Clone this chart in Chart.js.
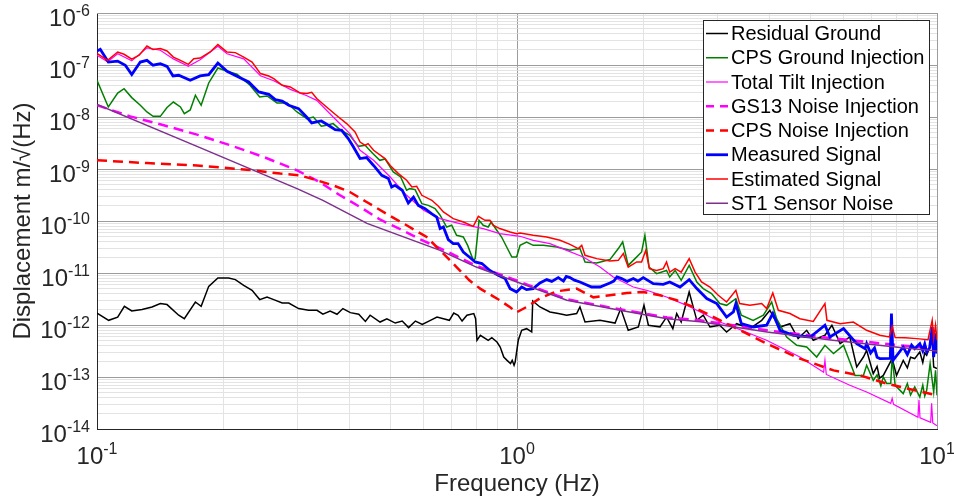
<!DOCTYPE html>
<html>
<head>
<meta charset="utf-8">
<script src="https://cdn.jsdelivr.net/npm/chart.js@4.4.1/dist/chart.umd.min.js"></script>
<style>
html,body{margin:0;padding:0;background:#fff;}
#wrap{width:954px;height:502px;}
</style>
</head>
<body>
<div id="wrap"><canvas id="psd" width="954" height="502"></canvas></div>
<script>
// [frequency Hz, displacement m/sqrt(Hz)]
const residualGround = [[0.1,1.70e-12],[0.1066,1.23e-12],[0.112,1.42e-12],[0.1162,2.29e-12],[0.121,1.86e-12],[0.128,1.98e-12],[0.1352,2.22e-12],[0.1415,2.58e-12],[0.1468,2.47e-12],[0.1565,1.54e-12],[0.1614,1.32e-12],[0.1715,2.77e-12],[0.177,2.29e-12],[0.1845,5.54e-12],[0.194,8.02e-12],[0.2058,8.02e-12],[0.2135,7.47e-12],[0.2235,5.8e-12],[0.234,4.65e-12],[0.244,3.08e-12],[0.254,3.45e-12],[0.2635,3.08e-12],[0.276,2.65e-12],[0.2861,2.65e-12],[0.302,2.07e-12],[0.319,1.92e-12],[0.3341,1.92e-12],[0.345,1.61e-12],[0.359,1.86e-12],[0.3728,1.61e-12],[0.385,2.07e-12],[0.401,1.73e-12],[0.42,1.61e-12],[0.4355,1.17e-12],[0.447,1.54e-12],[0.472,1.14e-12],[0.49,1.32e-12],[0.513,1.09e-12],[0.533,1.19e-12],[0.552,8.9e-13],[0.573,1.19e-12],[0.595,1.03e-12],[0.622,1.23e-12],[0.645,1.42e-12],[0.668,1.32e-12],[0.69,1.23e-12],[0.707,1.70e-12],[0.724,1.54e-12],[0.74,1.19e-12],[0.76,1.54e-12],[0.789,1.66e-12],[0.797,1.32e-12],[0.803,5.08e-13],[0.818,6.34e-13],[0.854,5.08e-13],[0.871,5.72e-13],[0.896,4.71e-13],[0.912,3.78e-13],[0.93,2.42e-13],[0.947,2.09e-13],[0.965,1.81e-13],[0.974,2.09e-13],[0.984,1.68e-13],[0.99,1.94e-13],[1.007,5.08e-13],[1.026,7.9e-13],[1.054,8.5e-13],[1.084,7.34e-13],[1.09,2.89e-12],[1.134,2.22e-12],[1.198,1.78e-12],[1.254,1.66e-12],[1.313,1.54e-12],[1.387,1.66e-12],[1.412,2.22e-12],[1.452,1.14e-12],[1.576,1.23e-12],[1.712,1.09e-12],[1.766,2.07e-12],[1.84,7.9e-13],[1.945,9.15e-13],[2.006,2.39e-12],[2.055,9.9e-13],[2.19,9.15e-13],[2.27,1.42e-12],[2.35,8.5e-13],[2.40,1.66e-12],[2.46,1.14e-12],[2.57,4.31e-12],[2.68,1.23e-12],[2.776,1.54e-12],[2.88,9.15e-13],[3.04,9.9e-13],[3.155,7.34e-13],[3.335,1.06e-12],[3.585,8.5e-13],[3.825,1.23e-12],[4.0,1.92e-12],[4.08,1.42e-12],[4.23,9.15e-13],[4.465,1.06e-12],[4.67,5.47e-13],[4.895,7.9e-13],[5.075,5.08e-13],[5.41,6.34e-13],[5.62,9.9e-13],[5.88,4.39e-13],[6.2,5.88e-13],[6.44,1.56e-13],[6.68,2.42e-13],[6.8,3.26e-13],[7.05,1.16e-13],[7.2,1.6e-13],[7.3,9.5e-14],[7.45,1.07e-13],[7.82,2.26e-13],[8.01,1.07e-13],[8.31,2.09e-13],[8.5,1.5e-13],[8.65,2.4e-13],[8.85,2.26e-13],[9.1,3.03e-13],[9.25,1.9e-13],[9.35,2.9e-13],[9.45,2.61e-13],[9.74,5.08e-13],[9.82,1.56e-13],[10,1.45e-13]];

const cpsGroundInjection = [[0.1,5.08e-8],[0.1064,1.56e-8],[0.112,2.89e-8],[0.116,3.51e-8],[0.121,2.36e-8],[0.1268,1.68e-8],[0.1315,1.25e-8],[0.136,1.03e-8],[0.1415,1.03e-8],[0.1468,1.52e-8],[0.152,1.94e-8],[0.158,1.56e-8],[0.1614,1.16e-8],[0.1667,1.37e-8],[0.1715,2.62e-8],[0.177,1.68e-8],[0.1845,4.51e-8],[0.194,8.76e-8],[0.204,7.57e-8],[0.2154,6.63e-8],[0.2314,4.07e-8],[0.244,2.42e-8],[0.254,2.54e-8],[0.2683,1.86e-8],[0.2835,1.86e-8],[0.2994,1.25e-8],[0.316,9.3e-9],[0.3275,1.0e-8],[0.342,6.63e-9],[0.352,6.92e-9],[0.365,7.47e-9],[0.379,5.72e-9],[0.400,4.44e-9],[0.419,2.73e-9],[0.435,2.86e-9],[0.442,2.47e-9],[0.4555,1.92e-9],[0.4715,1.47e-9],[0.485,1.56e-9],[0.5075,8.76e-10],[0.5285,7.02e-10],[0.546,3.90e-10],[0.556,4.19e-10],[0.572,4.01e-10],[0.5935,2.16e-10],[0.615,2.0e-10],[0.638,1.73e-10],[0.656,1.29e-10],[0.680,7.67e-11],[0.699,8.27e-11],[0.718,5.31e-11],[0.745,4.92e-11],[0.763,3.40e-11],[0.787,1.75e-11],[0.795,1.89e-11],[0.812,1.03e-10],[0.831,8.27e-11],[0.854,7.67e-11],[0.868,9.57e-11],[0.895,6.63e-11],[0.919,4.92e-11],[0.945,3.16e-11],[0.972,2.03e-11],[0.998,2.03e-11],[1.017,3.40e-11],[1.054,3.95e-11],[1.093,3.40e-11],[1.155,3.40e-11],[1.243,3.16e-11],[1.337,2.73e-11],[1.412,2.95e-11],[1.452,1.63e-11],[1.548,1.56e-11],[1.664,1.81e-11],[1.743,2.95e-11],[1.785,3.95e-11],[1.84,1.40e-11],[1.910,1.89e-11],[1.98,2.54e-11],[2.016,5.31e-11],[2.063,1.30e-11],[2.15,9.7e-12],[2.27,1.12e-11],[2.31,8.38e-12],[2.38,1.12e-11],[2.46,7.24e-12],[2.57,1.40e-11],[2.68,6.72e-12],[2.776,5.01e-12],[2.905,4.01e-12],[3.04,2.58e-12],[3.155,2.39e-12],[3.32,3.22e-12],[3.42,1.54e-12],[3.65,1.23e-12],[3.86,1.54e-12],[4.04,2.77e-12],[4.15,1.32e-12],[4.385,5.88e-13],[4.635,4.07e-13],[4.895,3.78e-13],[5.17,2.42e-13],[5.41,4.07e-13],[5.67,2.82e-13],[5.99,4.07e-13],[6.38,1.07e-13],[6.68,1.07e-13],[6.80,1.68e-13],[7.05,8.6e-14],[7.2,1.1e-13],[7.35,6.8e-14],[7.45,1.0e-13],[7.59,7.47e-14],[7.76,7.5e-14],[7.82,2.42e-13],[7.95,6.92e-14],[8.31,4.79e-14],[8.5,7.5e-14],[8.65,4.5e-14],[8.85,6.42e-14],[9.10,4.12e-14],[9.25,7.0e-14],[9.35,4.3e-14],[9.45,5.54e-14],[9.63,1.81e-13],[9.82,5.15e-14],[9.92,1.34e-13],[10,4.44e-14]];

const totalTiltInjection = [[0.1,1.54e-7],[0.106,1.15e-7],[0.112,1.64e-7],[0.121,1.2e-7],[0.1315,2.14e-7],[0.1415,1.92e-7],[0.152,1.31e-7],[0.165,9.4e-8],[0.176,1.26e-7],[0.194,2.29e-7],[0.204,1.64e-7],[0.2235,1.31e-7],[0.245,6.2e-8],[0.2635,4.97e-8],[0.2885,3.4e-8],[0.316,2.56e-8],[0.3335,2.09e-8],[0.365,1.0e-8],[0.400,4.79e-9],[0.423,2.29e-9],[0.4555,1.47e-9],[0.499,7.02e-10],[0.546,3.12e-10],[0.599,1.61e-10],[0.656,1.11e-10],[0.731,8.9e-11],[0.831,7.15e-11],[0.910,5.72e-11],[1.017,5.08e-11],[1.093,4.25e-11],[1.198,3.68e-11],[1.313,2.73e-11],[1.438,2.03e-11],[1.576,1.30e-11],[1.695,8.38e-12],[1.892,5.38e-12],[2.037,4.65e-12],[2.27,3.45e-12],[2.535,2.39e-12],[2.83,1.54e-12],[3.04,1.14e-12],[3.275,9.15e-13],[3.93,5.08e-13],[4.715,2.42e-13],[5.37,1.23e-13],[5.41,2.09e-13],[5.45,1.12e-13],[6.20,6.92e-14],[6.80,5.15e-14],[7.76,3.12e-14],[7.82,3.88e-14],[7.88,2.99e-14],[9.01,1.68e-14],[9.06,3.64e-14],[9.11,1.64e-14],[9.66,1.34e-14],[9.71,3.12e-14],[9.77,1.31e-14],[10,1.15e-14]];

const gs13NoiseInjection = [[0.1,1.68e-8],[0.120,1.03e-8],[0.1442,6.92e-9],[0.173,4.59e-9],[0.2077,2.86e-9],[0.2495,1.70e-9],[0.2994,9.43e-10],[0.339,5.62e-10],[0.379,3.12e-10],[0.423,1.86e-10],[0.4715,1.07e-10],[0.5285,6.92e-11],[0.588,4.44e-11],[0.656,2.99e-11],[0.8,1.38e-11],[1.0,7.1e-12],[1.315,3.12e-12],[1.759,2.0e-12],[2.276,1.40e-12],[2.73,1.23e-12],[3.94,7.9e-13],[5.65,5.54e-13],[8.17,4.07e-13],[10,3.56e-13]];

const cpsNoiseInjection = [[0.1,1.47e-9],[0.1315,1.30e-9],[0.173,1.17e-9],[0.2276,9.7e-10],[0.273,8.16e-10],[0.304,7.57e-10],[0.3335,6.07e-10],[0.365,4.85e-10],[0.400,3.61e-10],[0.4385,2.32e-10],[0.4895,1.37e-10],[0.546,8.27e-11],[0.6095,4.92e-11],[0.668,2.36e-11],[0.718,1.30e-11],[0.770,7.24e-12],[0.817,5.01e-12],[0.910,2.99e-12],[0.963,2.19e-12],[0.998,1.75e-12],[1.054,2.22e-12],[1.134,3.26e-12],[1.243,4.44e-12],[1.387,5.01e-12],[1.52,3.40e-12],[1.664,3.73e-12],[1.825,4.12e-12],[1.998,4.31e-12],[2.19,3.73e-12],[2.40,2.99e-12],[2.63,2.22e-12],[2.88,1.54e-12],[3.275,9.15e-13],[3.93,4.39e-13],[4.715,2.26e-13],[5.67,1.34e-13],[6.56,1.07e-13],[7.59,7.47e-14],[8.85,5.54e-14],[10,4.44e-14]];

const measuredSignal = [[0.1,1.86e-7],[0.1018,2.0e-7],[0.1064,1.14e-7],[0.112,1.19e-7],[0.1168,9.9e-8],[0.121,6.54e-8],[0.1268,1.14e-7],[0.1315,1.23e-7],[0.136,9.9e-8],[0.1415,1.06e-7],[0.1468,9.43e-8],[0.1517,6.15e-8],[0.1565,6.34e-8],[0.1667,5.08e-8],[0.176,6.15e-8],[0.1845,6.54e-8],[0.194,1.09e-7],[0.204,7.57e-8],[0.2154,6.07e-8],[0.2297,4.71e-8],[0.2427,3.03e-8],[0.2565,2.73e-8],[0.2658,2.16e-8],[0.276,2.03e-8],[0.2861,1.68e-8],[0.302,1.45e-8],[0.3155,1.0e-8],[0.3245,7.67e-9],[0.342,8.38e-9],[0.3555,6.92e-9],[0.369,5.72e-9],[0.3825,5.54e-9],[0.3965,3.85e-9],[0.408,2.65e-9],[0.423,1.59e-9],[0.4385,1.66e-9],[0.4555,1.17e-9],[0.4765,7.57e-10],[0.494,6.54e-10],[0.503,4.51e-10],[0.5125,4.85e-10],[0.533,3.90e-10],[0.551,2.22e-10],[0.567,2.89e-10],[0.582,2.0e-10],[0.604,1.73e-10],[0.627,1.37e-10],[0.644,1.19e-10],[0.656,7.15e-11],[0.668,7.67e-11],[0.686,4.39e-11],[0.705,3.68e-11],[0.724,3.68e-11],[0.745,2.54e-11],[0.770,2.03e-11],[0.795,1.63e-11],[0.825,1.52e-11],[0.862,1.12e-11],[0.902,9.0e-12],[0.937,7.81e-12],[0.963,5.01e-12],[0.998,4.31e-12],[1.026,5.38e-12],[1.054,4.79e-12],[1.093,5.01e-12],[1.134,6.42e-12],[1.177,7.47e-12],[1.21,6.9e-12],[1.254,8.16e-12],[1.29,7.0e-12],[1.31,8.6e-12],[1.337,8.16e-12],[1.37,7.3e-12],[1.412,6.72e-12],[1.505,5.38e-12],[1.576,5.38e-12],[1.664,6.42e-12],[1.70,7.0e-12],[1.73,8.4e-12],[1.775,7.81e-12],[1.83,6.9e-12],[1.892,7.81e-12],[1.94,7.0e-12],[1.998,8.16e-12],[2.111,6.25e-12],[2.23,6.07e-12],[2.31,6.72e-12],[2.444,5.38e-12],[2.57,7.47e-12],[2.68,5.01e-12],[2.83,3.22e-12],[2.99,2.58e-12],[3.155,1.42e-12],[3.275,1.78e-12],[3.32,2.58e-12],[3.42,1.06e-12],[3.65,9.15e-13],[3.93,9.9e-13],[4.065,1.66e-12],[4.23,7.9e-13],[4.555,6.34e-13],[4.99,5.88e-13],[5.41,9.9e-13],[5.56,5.88e-13],[5.99,8.5e-13],[6.44,4.39e-13],[6.74,3.51e-13],[6.80,4.39e-13],[6.95,2.9e-13],[7.1,3.6e-13],[7.2,2.4e-13],[7.31,2.26e-13],[7.74,2.28e-13],[7.79,1.66e-12],[7.86,2.09e-13],[8.31,3.78e-13],[8.5,2.7e-13],[8.7,4.1e-13],[8.85,3.51e-13],[9.10,4.39e-13],[9.25,3.2e-13],[9.35,4.3e-13],[9.45,3.03e-13],[9.6,3.6e-13],[9.74,9.15e-13],[9.82,2.42e-13],[9.92,6.92e-13],[10,2.82e-13]];

const estimatedSignal = [[0.1,1.67e-7],[0.106,1.23e-7],[0.112,1.78e-7],[0.116,1.61e-7],[0.121,1.30e-7],[0.126,1.54e-7],[0.1315,2.32e-7],[0.136,1.98e-7],[0.1415,2.07e-7],[0.1468,1.86e-7],[0.152,1.42e-7],[0.158,1.23e-7],[0.165,1.03e-7],[0.170,1.32e-7],[0.176,1.36e-7],[0.186,1.78e-7],[0.194,2.47e-7],[0.204,1.78e-7],[0.2135,1.73e-7],[0.2235,1.42e-7],[0.234,1.14e-7],[0.245,6.84e-8],[0.2565,6.15e-8],[0.2635,5.47e-8],[0.276,4.07e-8],[0.2885,3.78e-8],[0.305,2.89e-8],[0.316,2.82e-8],[0.3245,2.99e-8],[0.3335,2.26e-8],[0.352,1.56e-8],[0.372,1.07e-8],[0.393,7.47e-9],[0.4115,5.15e-9],[0.423,3.30e-9],[0.435,2.86e-9],[0.442,3.08e-9],[0.4555,2.29e-9],[0.485,1.59e-9],[0.499,1.17e-9],[0.522,8.16e-10],[0.546,6.07e-10],[0.562,4.51e-10],[0.577,4.65e-10],[0.5935,3.12e-10],[0.627,2.50e-10],[0.650,1.92e-10],[0.668,1.49e-10],[0.705,1.11e-10],[0.745,9.57e-11],[0.787,7.9e-11],[0.809,1.23e-10],[0.839,1.03e-10],[0.862,1.03e-10],[0.877,8.27e-11],[0.910,7.15e-11],[0.963,6.15e-11],[0.998,5.72e-11],[1.017,5.88e-11],[1.093,5.31e-11],[1.177,4.92e-11],[1.266,4.25e-11],[1.337,3.56e-11],[1.399,2.95e-11],[1.426,3.40e-11],[1.452,2.19e-11],[1.548,1.89e-11],[1.664,1.70e-11],[1.743,1.75e-11],[1.791,2.36e-11],[1.84,1.30e-11],[1.928,1.63e-11],[1.98,1.63e-11],[2.026,2.73e-11],[2.066,1.21e-11],[2.15,1.12e-11],[2.23,1.21e-11],[2.27,1.63e-11],[2.31,1.04e-11],[2.38,1.21e-11],[2.46,1.04e-11],[2.57,1.89e-11],[2.655,1.04e-11],[2.75,6.72e-12],[2.88,5.38e-12],[3.015,3.73e-12],[3.155,2.77e-12],[3.32,4.65e-12],[3.39,2.58e-12],[3.585,2.39e-12],[3.825,2.58e-12],[3.93,2.07e-12],[4.065,4.12e-12],[4.19,1.92e-12],[4.465,1.66e-12],[4.715,1.32e-12],[5.075,1.17e-12],[5.41,2.58e-12],[5.47,1.23e-12],[5.88,1.06e-12],[6.32,1.14e-12],[6.80,7.9e-13],[7.31,6.34e-13],[7.70,5.9e-13],[7.82,9.4e-13],[7.95,5.72e-13],[8.39,5.7e-13],[8.95,5.47e-13],[9.52,5.2e-13],[9.74,1.23e-12],[9.82,5.47e-13],[9.92,9.9e-13],[10,5.08e-13]];

const st1SensorNoise = [[0.1,1.75e-8],[0.173,2.73e-9],[0.2994,4.19e-10],[0.345,2.50e-10],[0.4394,9.0e-11],[0.656,2.73e-11],[0.8,1.30e-11],[1.0,6.72e-12],[1.315,2.99e-12],[1.759,1.92e-12],[2.276,1.32e-12],[2.73,1.15e-12],[3.94,7.34e-13],[5.65,5.08e-13],[8.17,3.68e-13],[10,3.16e-13]];

const xTickExponents = [-1, 0, 1];
const yTickExponents = [-14, -13, -12, -11, -10, -9, -8, -7, -6];

const FONT = '"Liberation Sans", Arial, Helvetica, sans-serif';
const INK = '#262626';

const series = [
  {label: 'Residual Ground',      data: residualGround,     color: '#000000', width: 1.5, dash: []},
  {label: 'CPS Ground Injection', data: cpsGroundInjection, color: '#008000', width: 1.5, dash: []},
  {label: 'Total Tilt Injection', data: totalTiltInjection, color: '#ff00ff', width: 1.2, dash: []},
  {label: 'GS13 Noise Injection', data: gs13NoiseInjection, color: '#ff00ff', width: 2.5, dash: [10, 6]},
  {label: 'CPS Noise Injection',  data: cpsNoiseInjection,  color: '#ff0000', width: 2.5, dash: [10, 6]},
  {label: 'Measured Signal',      data: measuredSignal,     color: '#0000ff', width: 2.8, dash: []},
  {label: 'Estimated Signal',     data: estimatedSignal,    color: '#ff0000', width: 1.5, dash: []},
  {label: 'ST1 Sensor Noise',     data: st1SensorNoise,     color: '#7e2f8e', width: 1.5, dash: []}
];

function logTicks(e0, e1){
  const t = [];
  for(let e = e0; e < e1; e++) for(let m = 1; m < 10; m++) t.push({value: m * Math.pow(10, e)});
  t.push({value: Math.pow(10, e1)});
  return t;
}
const isDecade = v => Math.abs(Math.log10(v) - Math.round(Math.log10(v))) < 1e-6;
const gridColor = c => (c.tick && isDecade(c.tick.value)) ? '#9c9c9c' : '#e3e3e3';

function drawPower(ctx, exp, x, y, align){
  ctx.font = '24px ' + FONT;
  const wb = ctx.measureText('10').width;
  ctx.font = '16px ' + FONT;
  const we = ctx.measureText(String(exp)).width;
  const left = align === 'right' ? x - wb - we : x - (wb + we) / 2;
  ctx.textAlign = 'left';
  ctx.textBaseline = 'alphabetic';
  ctx.fillStyle = INK;
  ctx.font = '24px ' + FONT;
  ctx.fillText('10', left, y);
  ctx.font = '16px ' + FONT;
  ctx.fillText(String(exp), left + wb, y - 10);
}

const decor = {
  id: 'decor',
  beforeDraw(chart){
    const c = chart.ctx;
    c.save(); c.fillStyle = '#fff'; c.fillRect(0, 0, chart.width, chart.height); c.restore();
  },
  afterDraw(chart){
    const c = chart.ctx, a = chart.chartArea, xs = chart.scales.x, ys = chart.scales.y;
    c.save();
    // box top/right
    c.strokeStyle = '#9c9c9c'; c.lineWidth = 1;
    c.beginPath();
    c.moveTo(a.left, a.top + 0.5); c.lineTo(a.right + 0.5, a.top + 0.5); c.lineTo(a.right + 0.5, a.bottom);
    c.stroke();

    yTickExponents.forEach(e => drawPower(c, e, a.left - 7, ys.getPixelForValue(Math.pow(10, e)) + 13, 'right'));
    xTickExponents.forEach(e => drawPower(c, e, xs.getPixelForValue(Math.pow(10, e)), a.bottom + 35, 'center'));

    c.fillStyle = INK;
    c.font = '24px ' + FONT;
    c.textAlign = 'center';
    c.textBaseline = 'alphabetic';
    c.fillText('Frequency (Hz)', (a.left + a.right) / 2, a.bottom + 62);
    c.save();
    c.translate(30, (a.top + a.bottom) / 2);
    c.rotate(-Math.PI / 2);
    c.fillText('Displacement m/\u221A(Hz)', 0, 0);
    c.restore();

    // legend
    const bx = a.right - 234, by = a.top + 7, bw = 226, bh = 194, row = 24.25;
    c.fillStyle = '#fff';
    c.fillRect(bx, by, bw, bh);
    c.strokeStyle = INK; c.lineWidth = 1;
    c.strokeRect(bx + 0.5, by + 0.5, bw, bh);
    c.font = '20px ' + FONT;
    c.textAlign = 'left';
    c.textBaseline = 'middle';
    series.forEach((s, i) => {
      const yy = by + 13.5 + i * row;
      c.strokeStyle = s.color;
      c.lineWidth = s.width;
      c.setLineDash(s.dash.length ? [8, 6] : []);
      c.beginPath(); c.moveTo(bx + 3, yy); c.lineTo(bx + 25, yy); c.stroke();
      c.setLineDash([]);
      c.fillStyle = '#000';
      c.fillText(s.label, bx + 28, yy + 1);
    });
    c.restore();
  }
};

new Chart(document.getElementById('psd'), {
  type: 'line',
  data: {
    datasets: series.map((s, i) => ({
      label: s.label,
      data: s.data.map(p => ({x: p[0], y: p[1]})),
      borderColor: s.color,
      backgroundColor: s.color,
      borderWidth: s.width,
      borderDash: s.dash,
      pointRadius: 0,
      tension: 0,
      fill: false,
      order: series.length - i
    }))
  },
  options: {
    responsive: false,
    animation: false,
    events: [],
    layout: {padding: {left: 97, right: 17, top: 13, bottom: 73}},
    plugins: {legend: {display: false}, tooltip: {enabled: false}},
    scales: {
      x: {
        type: 'logarithmic', min: 0.1, max: 10,
        afterBuildTicks: s => { s.ticks = logTicks(-1, 1); },
        ticks: {display: false, autoSkip: false},
        grid: {color: gridColor, lineWidth: 1, drawTicks: false},
        border: {display: true, color: INK, width: 1}
      },
      y: {
        type: 'logarithmic', min: 1e-14, max: 1e-6,
        afterBuildTicks: s => { s.ticks = logTicks(-14, -6); },
        ticks: {display: false, autoSkip: false},
        grid: {color: gridColor, lineWidth: 1, drawTicks: false},
        border: {display: true, color: INK, width: 1}
      }
    }
  },
  plugins: [decor]
});
</script>
</body>
</html>
